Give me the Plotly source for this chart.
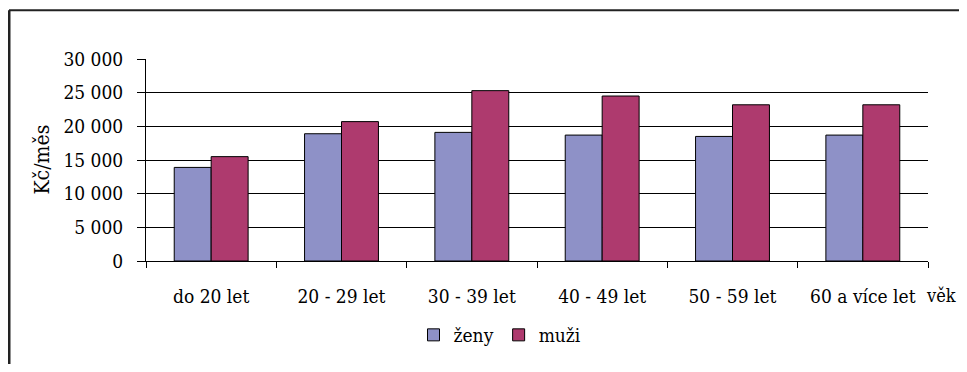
import plotly.graph_objects as go

categories = ["do 20 let", "20 - 29 let", "30 - 39 let", "40 - 49 let", "50 - 59 let", "60 a více let"]
zeny = [13900, 18900, 19100, 18700, 18500, 18700]
muzi = [15500, 20700, 25300, 24500, 23200, 23200]
y_ticks = [0, 5000, 10000, 15000, 20000, 25000, 30000]

OFF = 8  # page body margin
W, H = 967 - 2 * OFF, 372 - 2 * OFF   # avoid scrollbars
L, T = 146 - OFF, 59 - OFF
R = W - (928 - OFF)
B = H - (262 - OFF)
pw = W - L - R
ph = H - T - B

def px_x(px):
    return (px - OFF - L) / pw

def px_y(py):
    return (H - B - (py - OFF)) / ph

FONT = "DejaVu Serif Condensed, DejaVu Serif, serif"
FS = 19

fig = go.Figure()
fig.add_trace(go.Bar(name="ženy", x=categories, y=zeny,
                     marker=dict(color="#8E91C7", line=dict(color="#000000", width=1))))
fig.add_trace(go.Bar(name="muži", x=categories, y=muzi,
                     marker=dict(color="#AE3A6E", line=dict(color="#000000", width=1))))

fig.update_layout(
    width=W, height=H,
    margin=dict(l=L, r=R, t=T, b=B, pad=0),
    paper_bgcolor="white", plot_bgcolor="white",
    font=dict(family=FONT, size=FS, color="#000000"),
    separators=", ",
    barmode="group",
    bargap=0.433, bargroupgap=0,
    showlegend=True,
    legend=dict(orientation="h", x=px_x(500), xanchor="center", y=px_y(335), yanchor="middle",
                font=dict(family=FONT, size=FS), itemwidth=30, bgcolor="rgba(0,0,0,0)"),
    xaxis=dict(type="category", showline=True, linecolor="#000000", linewidth=1,
               ticks="outside", tickson="boundaries", ticklen=6, tickcolor="#000000",
               showgrid=False, ticklabelstandoff=18, tickfont=dict(family=FONT, size=FS)),
    yaxis=dict(range=[0, 30000], tickvals=y_ticks, tickformat=",d",
               showline=True, linecolor="#000000", linewidth=1,
               ticks="outside", ticklen=8, tickcolor="#000000",
               showgrid=True, gridcolor="#000000", gridwidth=1,
               zeroline=False, ticklabelstandoff=10, tickfont=dict(family=FONT, size=FS)),
    annotations=[
        dict(text="Kč/měs", xref="paper", yref="paper", x=px_x(42), y=px_y(160),
             xanchor="center", yanchor="middle", textangle=-90, showarrow=False,
             font=dict(family=FONT, size=21)),
        dict(text="věk", xref="paper", yref="paper", x=px_x(958), y=px_y(297),
             xanchor="right", yanchor="middle", showarrow=False,
             font=dict(family=FONT, size=18)),
    ],
    shapes=[
        dict(type="line", xref="paper", yref="paper", x0=px_x(9), x1=px_x(970),
             y0=px_y(10), y1=px_y(10), line=dict(color="#222222", width=2)),
        dict(type="line", xref="paper", yref="paper", x0=px_x(9), x1=px_x(9),
             y0=px_y(10), y1=px_y(380), line=dict(color="#222222", width=3)),
    ],
)

fig.write_html("out.html")
